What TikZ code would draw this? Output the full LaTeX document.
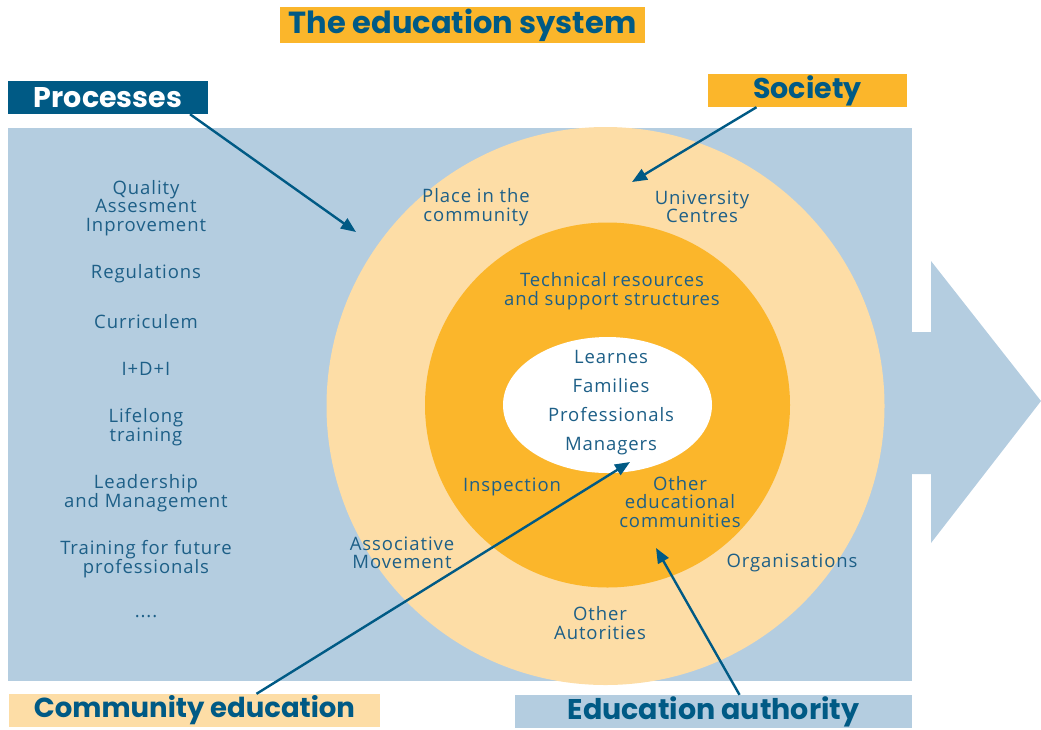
\documentclass[tikz,border=0pt]{standalone}
\usepackage{fontspec}
\setmainfont{Open Sans}[LetterSpace=5]
\newfontfamily\headfont{Poppins}
\usetikzlibrary{arrows.meta, positioning, calc, shapes.geometric}

\definecolor{skyblue}{HTML}{B4CDE0}
\definecolor{paleorange}{HTML}{FDDDA6}
\definecolor{sunorange}{HTML}{FBB62B}
\definecolor{navy}{HTML}{005A85}
\definecolor{inkblue}{HTML}{1D5F87}

\tikzset{
    banner/.style={inner sep=0pt, minimum height=33pt, text=navy,
        font=\headfont\bfseries\fontsize{28.5}{28.5}\selectfont},
    item/.style={align=center, inner sep=0pt, text=inkblue,
        font=\fontsize{18.5}{18.5}\selectfont},
    pointer/.style={draw=navy, line width=2.4pt,
        -{Triangle[length=15pt, width=12pt]}},
}

\begin{document}
\begin{tikzpicture}[x=1pt, y=-1pt]
    \useasboundingbox (0,0) rectangle (1041,729);

    % background band with the arrow head
    \fill[skyblue] (8,128) rectangle (912,681);
    \fill[skyblue] (912,332) -- (931,332) -- (931,261) -- (1041,401)
        -- (931,543) -- (931,474) -- (912,474) -- cycle;

    % the rings
    \fill[paleorange] (605.5,406) circle[radius=279pt];
    \fill[sunorange] (607.5,405) circle[radius=182.5pt];
    \fill[white] (607.5,405) ellipse[x radius=104.5pt, y radius=68pt];

    % banners
    \node[banner, fill=sunorange, minimum width=365pt, minimum height=36pt,
        font=\headfont\bfseries\fontsize{30.5}{30.5}\selectfont] (system) at (462.5,25) {The education system};
    \node[banner, fill=navy, text=white, minimum width=200pt] (processes) at (108,97.5) {Processes};
    \node[banner, fill=sunorange, minimum width=199pt] (society) at (807.5,90.5) {Society};
    \node[banner, fill=paleorange, minimum width=371pt,
        font=\headfont\bfseries\fontsize{27.5}{27.5}\selectfont] (community) at (194.5,710.5) {Community education};
    \node[banner, fill=skyblue, minimum width=397pt] (authority) at (713.5,711.5) {Education authority};

    % processes column
    \node[item] (quality) at (146,208) {Quality\\Assesment\\Inprovement};
    \node[item] (regulations) at (146,274) {Regulations};
    \node[item] (curriculem) at (146,322) {Curriculem};
    \node[item] (idi) at (146,369) {I+D+I};
    \node[item] (lifelong) at (146,427) {Lifelong\\training};
    \node[item] (leadership) at (146,493) {Leadership\\and Management};
    \node[item] (training) at (146,559) {Training for future\\professionals};
    \node[item] (more) at (146,617) {....};

    % outer ring
    \node[item] (place) at (476,207) {Place in the\\community};
    \node[item] (university) at (702,207) {University\\Centres};
    \node[item] (associative) at (402,553) {Associative\\Movement};
    \node[item] (organisations) at (792,563) {Organisations};
    \node[item] (autorities) at (600,623) {Other\\Autorities};

    % middle ring
    \node[item] (technical) at (612,291) {Technical resources\\and support structures};
    \node[item] (inspection) at (512,487) {Inspection};
    \node[item] (othercom) at (680,502) {Other\\educational\\communities};

    % centre
    \node[item, font=\fontsize{18.5}{29}\selectfont] (people) at (611,403) {Learnes\\Families\\Professionals\\Managers};

    % pointers
    \coordinate (procTip) at (356,232);
    \coordinate (socTip) at (632,182);
    \coordinate (commTip) at (630,462);
    \coordinate (authTip) at (656,548);

    \draw[pointer] ($(processes.south)+(82,0)$) -- (procTip);
    \draw[pointer] ($(society.south)+(-51,0)$) -- (socTip);
    \draw[pointer] ($(community.north)+(62,0)$) -- (commTip);
    \draw[pointer] ($(authority.north)+(26,0)$) -- (authTip);
\end{tikzpicture}
\end{document}
